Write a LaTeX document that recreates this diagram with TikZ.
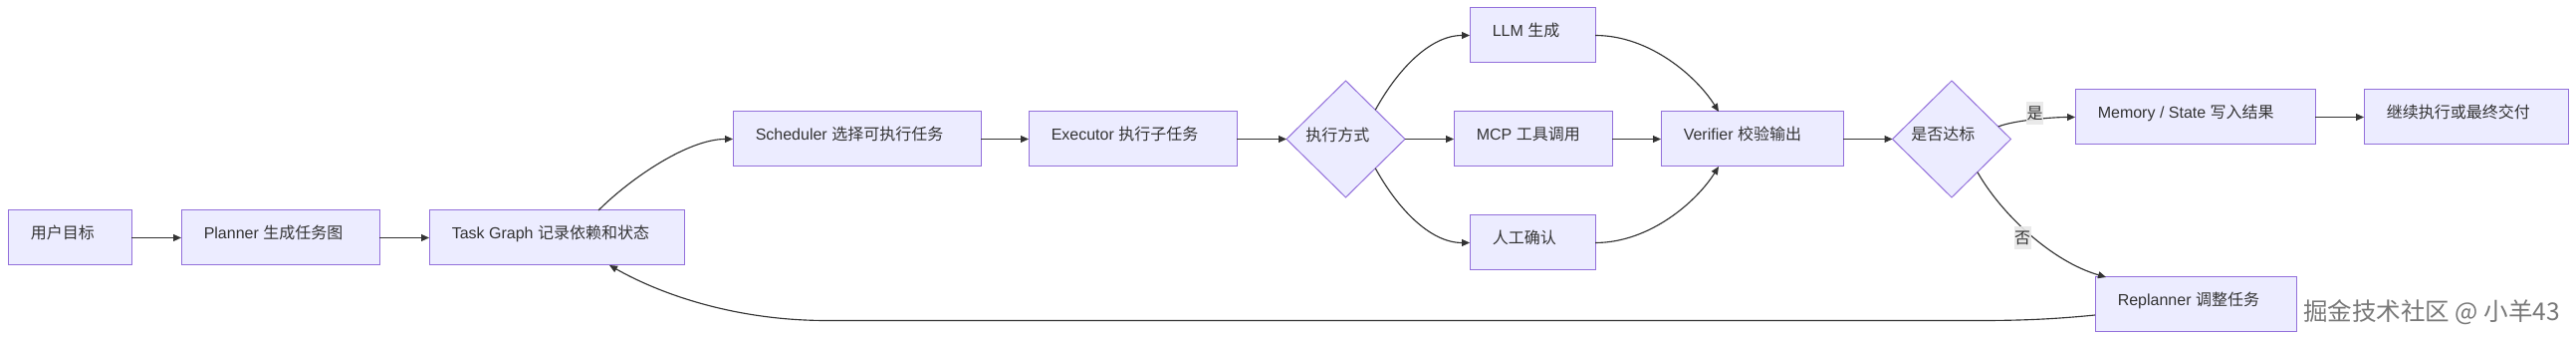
\documentclass[tikz,border=0pt]{standalone}
\usepackage{fontspec}
\setmainfont{Liberation Sans}
\newfontfamily\cjk{Noto Sans CJK SC}
\usetikzlibrary{shapes.geometric,arrows.meta,calc}
\definecolor{nodefill}{HTML}{ECECFF}
\definecolor{nodeborder}{HTML}{9370DB}
\definecolor{edgecol}{HTML}{333333}
\definecolor{lblbg}{HTML}{E8E8E8}
\definecolor{txtcol}{HTML}{333333}
\definecolor{wmcol}{HTML}{787878}
\newcommand\zh[1]{{\cjk #1}}
% name, x1, y1, x2, y2, text
\newcommand\bx[6]{%
  \node[box, minimum width={(#4-#2)*0.75pt}, minimum height={(#5-#3)*0.75pt}] (#1) at ({(#2+#4)/2},{(#3+#5)/2}) {};
  \node[txt] (#1t) at ($(#1.west)+(22.5,1.5)$) {#6};}
\tikzset{
  box/.style={draw=nodeborder, fill=nodefill, line width=0.75pt, inner sep=0pt, outer sep=0pt},
  dia/.style={shape=diamond, draw=nodeborder, fill=nodefill, line width=0.75pt, inner sep=0pt, outer sep=0pt,
              minimum width={119*0.75pt}, minimum height={117*0.75pt}},
  txt/.style={anchor=base west, inner sep=0pt, text=txtcol, font=\fontsize{12pt}{14pt}\selectfont},
  lbl/.style={fill=lblbg, fill opacity=0.9, text opacity=1, inner sep=0pt, text=txtcol,
              minimum width={17*0.75pt}, minimum height={23*0.75pt}, font=\fontsize{12pt}{14pt}\selectfont\cjk},
  edge/.style={draw=edgecol, line width=0.85pt, -{Triangle[length=6pt,width=5.2pt]}},
  wm/.style={inner sep=0pt, text=wmcol, font=\fontsize{18.4pt}{20pt}\selectfont\cjk}
}
\begin{document}
\begin{tikzpicture}[x=0.75pt,y=-0.75pt]
\useasboundingbox (0,0) rectangle (2587,341);
\fill[white] (0,0) rectangle (2587,341);

\bx{U}{8}{211}{132}{266}{\zh{用户目标}}
\bx{P}{182}{211}{381}{266}{Planner \zh{生成任务图}}
\bx{T}{431}{211}{687}{266}{Task Graph \zh{记录依赖和状态}}
\bx{S}{736}{112}{985}{167}{Scheduler \zh{选择可执行任务}}
\bx{E}{1033}{112}{1242}{167}{Executor \zh{执行子任务}}
\bx{L}{1476}{8}{1602}{63}{LLM \zh{生成}}
\bx{MCP}{1460}{112}{1619}{167}{MCP \zh{工具调用}}
\bx{H}{1476}{216}{1602}{271}{\zh{人工确认}}
\bx{V}{1668}{112}{1851}{167}{Verifier \zh{校验输出}}
\bx{M}{2084}{90}{2325}{145}{Memory / State \zh{写入结果}}
\bx{C}{2374}{90}{2579}{145}{\zh{继续执行或最终交付}}
\bx{R}{2104}{278}{2306}{333}{Replanner \zh{调整任务}}

\node[dia] (D1) at (1351.5,139.5) {};
\node[txt] (D1t) at ($(D1.center)+(-40.5,2)$) {\zh{执行方式}};
\node[dia] (D2) at (1960,139.5) {};
\node[txt] (D2t) at ($(D2.center)+(-41,1)$) {\zh{是否达标}};

\draw[edge] (U.east) -- (P.west);
\draw[edge] (P.east) -- (T.west);
\draw[edge] ($(T.north)+(42,0)$) .. controls +(32,-32) and +(-45,0) .. (S.west);
\draw[edge] (S.east) -- (E.west);
\draw[edge] (E.east) -- (D1.west);
\draw[edge] (D1.north east) .. controls +(22,-40) and +(-40,0) .. (L.west);
\draw[edge] (D1.east) -- (MCP.west);
\draw[edge] (D1.south east) .. controls +(22,40) and +(-40,0) .. (H.west);
\draw[edge] (L.east) .. controls +(55,0) and +(-22,-35) .. ($(V.north)+(-33.5,0)$);
\draw[edge] (MCP.east) -- (V.west);
\draw[edge] (H.east) .. controls +(55,0) and +(-22,35) .. ($(V.south)+(-33.5,0)$);
\draw[edge] (V.east) -- (D2.west);
\draw[edge] (D2.15) .. controls +(15,-6) and +(-25,0) .. (M.west);
\draw[edge] (D2.-52) .. controls +(24,42) and +(-55,-16) .. ($(R.north west)+(11,0)$);
\draw[edge] (M.east) -- (C.west);
\coordinate (rb1) at (1990,321.5);
\coordinate (rb2) at (830,321.5);
\draw[edge] ($(R.west)+(0,10.5)$) .. controls +(-40,4) and +(40,0) .. (rb1) -- (rb2)
  .. controls +(-90,0) and +(53,30) .. ($(T.south)+(53,0)$);

\node[lbl] (yes) at (2043.5,113.5) {是};
\node[lbl] (no) at (2031,239) {否};

\node[wm] (wm) at (2442,313) {掘金技术社区 @ 小羊43};
\end{tikzpicture}
\end{document}
